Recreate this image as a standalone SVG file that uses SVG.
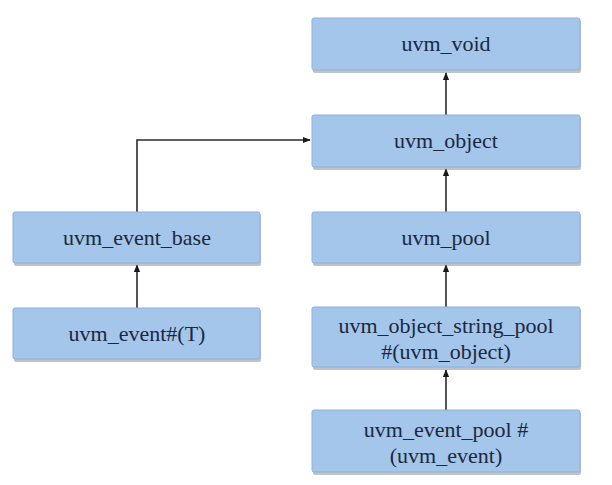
<svg xmlns="http://www.w3.org/2000/svg" width="612" height="485" viewBox="0 0 612 485">
<style>
.box{fill:#a3c6ea;stroke:#8fb1d6;stroke-width:1}
.sh{fill:#8a8f99;opacity:0.55}
.t{font-size:22px;fill:#1c2840;text-anchor:middle}
.c{fill:none;stroke:#2b2b2b;stroke-width:1.6}
</style>
<defs>
<marker id="ah" viewBox="0 0 10 10" refX="9" refY="5" markerWidth="5" markerHeight="5" orient="auto"><path d="M0,1 L10,5 L0,9 z" fill="#1a1a1a"/></marker>
</defs>
<rect width="612" height="485" fill="#ffffff"/>
<g id="connectors">
<path class="c" d="M446,115 L446,73" marker-end="url(#ah)"/>
<path class="c" d="M446,212 L446,169" marker-end="url(#ah)"/>
<path class="c" d="M446,307 L446,265" marker-end="url(#ah)"/>
<path class="c" d="M446,410 L446,370" marker-end="url(#ah)"/>
<path class="c" d="M137,308 L137,265" marker-end="url(#ah)"/>
<path class="c" d="M137,212 L137,140 L310,140" marker-end="url(#ah)"/>
</g>
<g font-family="Liberation Serif, DejaVu Serif, serif">
<g id="uvm_void"><rect class="sh" x="313" y="20" width="268" height="53" rx="2"/><rect class="box" x="312" y="18" width="268" height="52" rx="2"/><text class="t" x="446" y="51">uvm_void</text></g>
<g id="uvm_object"><rect class="sh" x="313" y="117" width="268" height="53" rx="2"/><rect class="box" x="312" y="115" width="268" height="52" rx="2"/><text class="t" x="446" y="148">uvm_object</text></g>
<g id="uvm_pool"><rect class="sh" x="313" y="214" width="268" height="52" rx="2"/><rect class="box" x="312" y="212" width="268" height="51" rx="2"/><text class="t" x="446" y="245">uvm_pool</text></g>
<g id="uvm_object_string_pool"><rect class="sh" x="313" y="309" width="268" height="61" rx="2"/><rect class="box" x="312" y="307" width="268" height="60" rx="2"/><text class="t" x="446" y="333">uvm_object_string_pool</text><text class="t" x="446" y="359">#(uvm_object)</text></g>
<g id="uvm_event_pool"><rect class="sh" x="313" y="412" width="268" height="63" rx="2"/><rect class="box" x="312" y="410" width="268" height="62" rx="2"/><text class="t" x="446" y="437">uvm_event_pool #</text><text class="t" x="446" y="463">(uvm_event)</text></g>
<g id="uvm_event_base"><rect class="sh" x="14" y="214" width="247" height="52" rx="2"/><rect class="box" x="13" y="212" width="247" height="51" rx="2"/><text class="t" x="137" y="245">uvm_event_base</text></g>
<g id="uvm_event_T"><rect class="sh" x="14" y="310" width="247" height="52" rx="2"/><rect class="box" x="13" y="308" width="247" height="51" rx="2"/><text class="t" x="137" y="341">uvm_event#(T)</text></g>
</g>
</svg>
